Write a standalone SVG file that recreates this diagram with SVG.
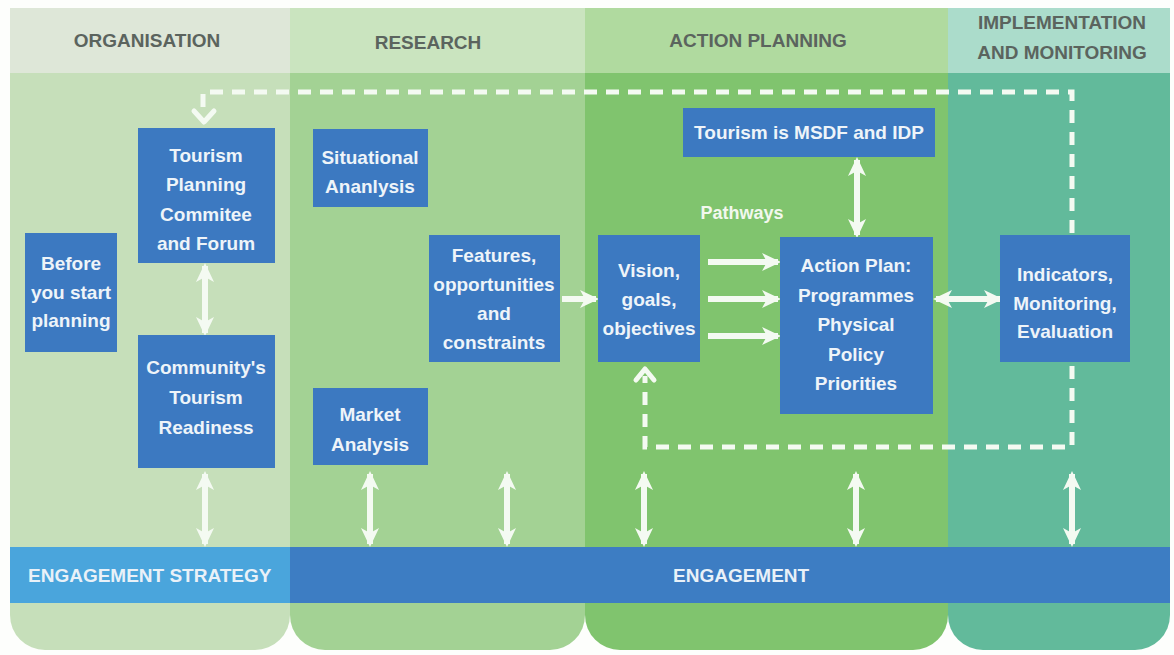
<svg xmlns="http://www.w3.org/2000/svg" width="1174" height="655" viewBox="0 0 1174 655">
  <style>
    .hdr { font-family: "Liberation Sans", Arial, sans-serif; font-weight: bold; font-size: 19px; fill: #5b645e; text-anchor: middle; }
    .box { fill: #3c79c1; }
    .lbl { font-family: "Liberation Sans", Arial, sans-serif; font-weight: bold; font-size: 19px; fill: #eef4f9; text-anchor: middle; }
    .band { font-family: "Liberation Sans", Arial, sans-serif; font-weight: bold; font-size: 19px; fill: #e9f1f8; }
    .path { fill: #f2f8ee; font-family: "Liberation Sans", Arial, sans-serif; font-weight: bold; font-size: 18px; text-anchor: middle; }
    .dash { fill: none; stroke: #f4faf2; stroke-width: 5; stroke-dasharray: 13 9; }
    .chev { fill: none; stroke: #f4faf2; stroke-width: 5; stroke-linecap: round; stroke-linejoin: round; }
    .arr { stroke: #f4faf2; stroke-width: 6; fill: none; }
  </style>
  <defs>
    <!-- white notched arrowhead shared by all solid arrows -->
    <marker id="head" viewBox="0 0 20 20" refX="16" refY="10" markerWidth="20" markerHeight="20" markerUnits="userSpaceOnUse" orient="auto-start-reverse">
      <path d="M0,1 L19,10 L0,19 L5,10 Z" fill="#f4faf2"/>
    </marker>
  </defs>

  <rect width="1174" height="655" fill="#fdfefc"/>

  <!-- phase columns -->
  <g id="columns">
    <path d="M10,8 H290 V615 A35,35 0 0 1 255,650 H45 A35,35 0 0 1 10,615 Z" fill="#c6dfba"/>
    <path d="M290,8 H585 V615 A35,35 0 0 1 550,650 H325 A35,35 0 0 1 290,615 Z" fill="#a3d294"/>
    <path d="M585,8 H948 V615 A35,35 0 0 1 913,650 H620 A35,35 0 0 1 585,615 Z" fill="#80c46e"/>
    <path d="M948,8 H1170 V615 A35,35 0 0 1 1135,650 H983 A35,35 0 0 1 948,615 Z" fill="#62ba9b"/>
    <rect x="10" y="8" width="280" height="65" fill="#dee7d8"/>
    <rect x="290" y="8" width="295" height="65" fill="#cae4bf"/>
    <rect x="585" y="8" width="363" height="65" fill="#b0da9f"/>
    <rect x="948" y="8" width="222" height="65" fill="#abdccb"/>
    <text class="hdr" x="147" y="47">ORGANISATION</text>
    <text class="hdr" x="428" y="49">RESEARCH</text>
    <text class="hdr" x="758" y="47">ACTION PLANNING</text>
    <text class="hdr" x="1062" y="29">IMPLEMENTATION</text>
    <text class="hdr" x="1062" y="59">AND MONITORING</text>
  </g>

  <!-- engagement band -->
  <g id="engagement">
    <rect x="10" y="547" width="1160" height="56" fill="#3d7dc3"/>
    <rect x="10" y="547" width="280" height="56" fill="#4aa5dc"/>
    <text class="band" x="28" y="582">ENGAGEMENT STRATEGY</text>
    <text class="band" x="673" y="582">ENGAGEMENT</text>
  </g>

  <!-- connectors -->
  <g id="connectors">
    <path class="dash" d="M1072,233 V92 H203 V108"/>
    <polyline class="chev" points="194,111 204,122 214,111"/>
    <path class="dash" d="M1072,366 V447 H645 V376"/>
    <polyline class="chev" points="636,380 645,369 654,380"/>

    <line class="arr" x1="562" y1="299" x2="596" y2="299" marker-end="url(#head)"/>
    <line class="arr" x1="708" y1="262" x2="778" y2="262" marker-end="url(#head)"/>
    <line class="arr" x1="708" y1="299" x2="778" y2="299" marker-end="url(#head)"/>
    <line class="arr" x1="708" y1="336" x2="778" y2="336" marker-end="url(#head)"/>
    <line class="arr" x1="936" y1="299" x2="1000" y2="299" marker-start="url(#head)" marker-end="url(#head)"/>
    <line class="arr" x1="857" y1="160" x2="857" y2="235" marker-start="url(#head)" marker-end="url(#head)"/>
    <line class="arr" x1="205" y1="266" x2="205" y2="333" marker-start="url(#head)" marker-end="url(#head)"/>

    <line class="arr" x1="205" y1="474" x2="205" y2="544" marker-start="url(#head)" marker-end="url(#head)"/>
    <line class="arr" x1="370" y1="474" x2="370" y2="544" marker-start="url(#head)" marker-end="url(#head)"/>
    <line class="arr" x1="507" y1="474" x2="507" y2="544" marker-start="url(#head)" marker-end="url(#head)"/>
    <line class="arr" x1="644" y1="474" x2="644" y2="544" marker-start="url(#head)" marker-end="url(#head)"/>
    <line class="arr" x1="856" y1="474" x2="856" y2="544" marker-start="url(#head)" marker-end="url(#head)"/>
    <line class="arr" x1="1072" y1="474" x2="1072" y2="544" marker-start="url(#head)" marker-end="url(#head)"/>

    <text class="path" x="742" y="219">Pathways</text>
  </g>

  <!-- nodes -->
  <g id="before">
    <rect class="box" x="25" y="233" width="92" height="119"/>
    <text class="lbl" x="71" y="270">Before</text>
    <text class="lbl" x="71" y="299">you start</text>
    <text class="lbl" x="71" y="327">planning</text>
  </g>
  <g id="committee">
    <rect class="box" x="138" y="128" width="137" height="135"/>
    <text class="lbl" x="206" y="162">Tourism</text>
    <text class="lbl" x="206" y="191">Planning</text>
    <text class="lbl" x="206" y="221">Commitee</text>
    <text class="lbl" x="206" y="250">and Forum</text>
  </g>
  <g id="readiness">
    <rect class="box" x="138" y="335" width="137" height="133"/>
    <text class="lbl" x="206" y="374">Community's</text>
    <text class="lbl" x="206" y="404">Tourism</text>
    <text class="lbl" x="206" y="434">Readiness</text>
  </g>
  <g id="situational">
    <rect class="box" x="313" y="129" width="115" height="78"/>
    <text class="lbl" x="370" y="164">Situational</text>
    <text class="lbl" x="370" y="193">Ananlysis</text>
  </g>
  <g id="market">
    <rect class="box" x="313" y="388" width="115" height="77"/>
    <text class="lbl" x="370" y="421">Market</text>
    <text class="lbl" x="370" y="451">Analysis</text>
  </g>
  <g id="features">
    <rect class="box" x="429" y="235" width="131" height="127"/>
    <text class="lbl" x="494" y="262">Features,</text>
    <text class="lbl" x="494" y="291">opportunities</text>
    <text class="lbl" x="494" y="320">and</text>
    <text class="lbl" x="494" y="349">constraints</text>
  </g>
  <g id="vision">
    <rect class="box" x="598" y="235" width="102" height="127"/>
    <text class="lbl" x="649" y="277">Vision,</text>
    <text class="lbl" x="649" y="306">goals,</text>
    <text class="lbl" x="649" y="335">objectives</text>
  </g>
  <g id="msdf">
    <rect class="box" x="683" y="108" width="252" height="49"/>
    <text class="lbl" x="809" y="139">Tourism is MSDF and IDP</text>
  </g>
  <g id="actionplan">
    <rect class="box" x="780" y="237" width="153" height="177"/>
    <text class="lbl" x="856" y="272">Action Plan:</text>
    <text class="lbl" x="856" y="302">Programmes</text>
    <text class="lbl" x="856" y="331">Physical</text>
    <text class="lbl" x="856" y="361">Policy</text>
    <text class="lbl" x="856" y="390">Priorities</text>
  </g>
  <g id="indicators">
    <rect class="box" x="1000" y="235" width="130" height="127"/>
    <text class="lbl" x="1065" y="281">Indicators,</text>
    <text class="lbl" x="1065" y="310">Monitoring,</text>
    <text class="lbl" x="1065" y="338">Evaluation</text>
  </g>
</svg>
